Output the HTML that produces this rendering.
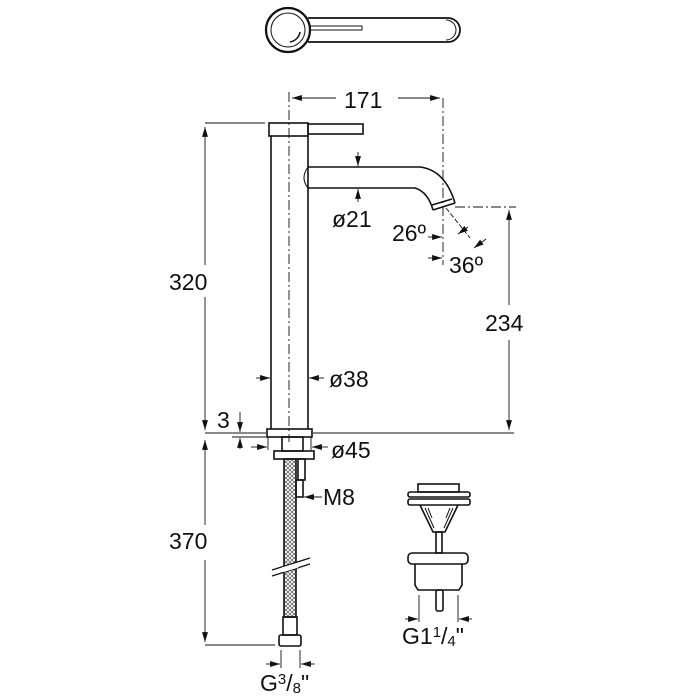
<!DOCTYPE html><html><head><style>body{margin:0;background:#fff}svg{display:block}text{font-family:"Liberation Sans",sans-serif;fill:#111}</style></head><body>
<svg width="700" height="700" viewBox="0 0 700 700" xmlns="http://www.w3.org/2000/svg">
<defs>
<marker id="a" viewBox="0 0 10 10" refX="10" refY="5" markerWidth="11" markerHeight="11" orient="auto-start-reverse"><path d="M0,2 L10,5 L0,8 z" fill="#111"/></marker>
<pattern id="br" width="4" height="4" patternUnits="userSpaceOnUse"><path d="M0,0 L4,4 M4,0 L0,4" stroke="#555" stroke-width="0.7"/></pattern>
</defs>
<g fill="none" stroke="#111" stroke-width="1.6">
<circle cx="288" cy="30" r="22" stroke-width="2.2"/>
<circle cx="288" cy="30" r="17" stroke-width="1"/>
<path d="M308,18 L448,18 A12,12 0 0 1 448,42 L308,42" stroke-width="1.8"/>
<path d="M446,20 A10,10 0 0 1 446,40" stroke-width="1"/>
<rect x="310" y="26" width="52" height="4" stroke-width="1"/>
<path d="M290,42 A12,12 0 0 0 300,32" stroke-width="1.5"/>
<rect x="269" y="123" width="39" height="13"/>
<rect x="308" y="124" width="55" height="10"/>
<line x1="271" y1="136" x2="271" y2="429"/><line x1="308" y1="136" x2="308" y2="429"/>
<path d="M308,167 L420,167 Q445,170 455,203"/>
<path d="M308,188 L415,188 Q428,192 433,210"/>
<path d="M433,210 L455,203" />
<path d="M432,205 L452,199"/>
<path d="M308,167 Q300,178 308,188" stroke-width="1"/>
<rect x="267" y="429" width="45" height="8"/>
<rect x="282" y="437" width="21" height="14"/>
<rect x="274" y="451" width="40" height="8"/>
<rect x="298" y="459" width="7" height="21"/>
<rect x="296" y="480" width="7" height="17"/>
<rect x="284" y="459" width="12" height="158" fill="url(#br)"/>
<rect x="283" y="617" width="14" height="18"/>
<rect x="279" y="635" width="22" height="11" rx="2"/>
<rect x="418" y="484" width="41" height="8"/>
<rect x="408" y="492" width="62" height="5" rx="2"/>
<rect x="408" y="499" width="62" height="6" rx="2"/>
<path d="M420,505 L433,532 L445,532 L458,505"/>
<path d="M425,508 L434,528 M453,508 L444,528 M428,508 L432,518 M450,508 L446,518" stroke-width="1"/>
<rect x="436" y="532" width="6" height="21"/>
<rect x="408" y="553" width="60" height="11" rx="4"/>
<path d="M415,564 L415,585 L418,590 L459,590 L462,585 L462,564"/>
<rect x="436" y="590" width="7" height="21" rx="2"/>
</g>
<g fill="none" stroke="#111" stroke-width="0.9">
<line x1="289" y1="92" x2="289" y2="442" stroke-dasharray="10,3,2,3"/>
<line x1="443" y1="98" x2="443" y2="265" stroke-dasharray="10,3,2,3"/>
<line x1="455" y1="207" x2="516" y2="207" stroke-dasharray="10,3,2,3"/>
<line x1="292" y1="98" x2="336" y2="98" marker-start="url(#a)"/>
<line x1="398" y1="98" x2="440" y2="98" marker-end="url(#a)"/>
<line x1="358" y1="152" x2="358" y2="166" marker-end="url(#a)"/>
<line x1="358" y1="202" x2="358" y2="189" marker-end="url(#a)"/>
<line x1="428" y1="237" x2="442" y2="237" marker-end="url(#a)"/>
<line x1="428" y1="258" x2="442" y2="258" marker-end="url(#a)"/>
<line x1="446" y1="208" x2="470" y2="238" stroke-dasharray="5,2"/>
<line x1="458" y1="234" x2="468" y2="227" marker-start="url(#a)"/>
<line x1="474" y1="248" x2="486" y2="239" marker-start="url(#a)"/>
<line x1="205" y1="123" x2="265" y2="123"/>
<line x1="205" y1="127" x2="205" y2="265" marker-start="url(#a)"/>
<line x1="205" y1="297" x2="205" y2="430" marker-end="url(#a)"/>
<line x1="509" y1="210" x2="509" y2="305" marker-start="url(#a)"/>
<line x1="509" y1="340" x2="509" y2="430" marker-end="url(#a)"/>
<line x1="205" y1="433" x2="266" y2="433"/>
<line x1="313" y1="433" x2="514" y2="433"/>
<line x1="256" y1="378" x2="270" y2="378" marker-end="url(#a)"/>
<line x1="324" y1="378" x2="309" y2="378" marker-end="url(#a)"/>
<line x1="240" y1="412" x2="240" y2="432" marker-end="url(#a)"/>
<line x1="240" y1="449" x2="240" y2="438" marker-end="url(#a)"/>
<line x1="232" y1="437" x2="266" y2="437"/>
<line x1="268" y1="437" x2="268" y2="450"/><line x1="311" y1="437" x2="311" y2="450"/>
<line x1="251" y1="447" x2="267" y2="447" marker-end="url(#a)"/>
<line x1="328" y1="447" x2="312" y2="447" marker-end="url(#a)"/>
<line x1="322" y1="497" x2="304" y2="497" marker-end="url(#a)"/>
<line x1="205" y1="440" x2="205" y2="525" marker-start="url(#a)"/>
<line x1="205" y1="560" x2="205" y2="642" marker-end="url(#a)"/>
<line x1="205" y1="645" x2="275" y2="645"/>
<line x1="281" y1="650" x2="281" y2="668"/><line x1="300" y1="650" x2="300" y2="668"/>
<line x1="266" y1="664" x2="280" y2="664" marker-end="url(#a)"/>
<line x1="315" y1="664" x2="301" y2="664" marker-end="url(#a)"/>
<line x1="419" y1="595" x2="419" y2="622"/><line x1="458" y1="595" x2="458" y2="622"/>
<line x1="405" y1="619" x2="418" y2="619" marker-end="url(#a)"/>
<line x1="472" y1="619" x2="459" y2="619" marker-end="url(#a)"/>
</g>
<g stroke="#111" stroke-width="1.2">
<line x1="272" y1="570" x2="310" y2="558"/><line x1="272" y1="576" x2="310" y2="564"/>
</g>
<rect x="282" y="565" width="16" height="5" fill="#fff" transform="rotate(-17 290 567)"/>
<g font-size="23">
<text x="344" y="108">171</text>
<text x="332" y="227">ø21</text>
<text x="392" y="241">26º</text>
<text x="449" y="273">36º</text>
<text x="169" y="290">320</text>
<text x="485" y="331">234</text>
<text x="329" y="387">ø38</text>
<text x="217" y="428">3</text>
<text x="331" y="458">ø45</text>
<text x="323" y="505">M8</text>
<text x="169" y="549">370</text>
<text x="260" y="691">G<tspan font-size="15" dy="-7">3</tspan><tspan dy="7">/</tspan><tspan font-size="15" dy="2">8</tspan><tspan dy="-2">"</tspan></text>
<text x="402" y="644">G1<tspan font-size="15" dy="-7">1</tspan><tspan dy="7">/</tspan><tspan font-size="15" dy="2">4</tspan><tspan dy="-2">"</tspan></text>
</g>
</svg>
</body></html>
